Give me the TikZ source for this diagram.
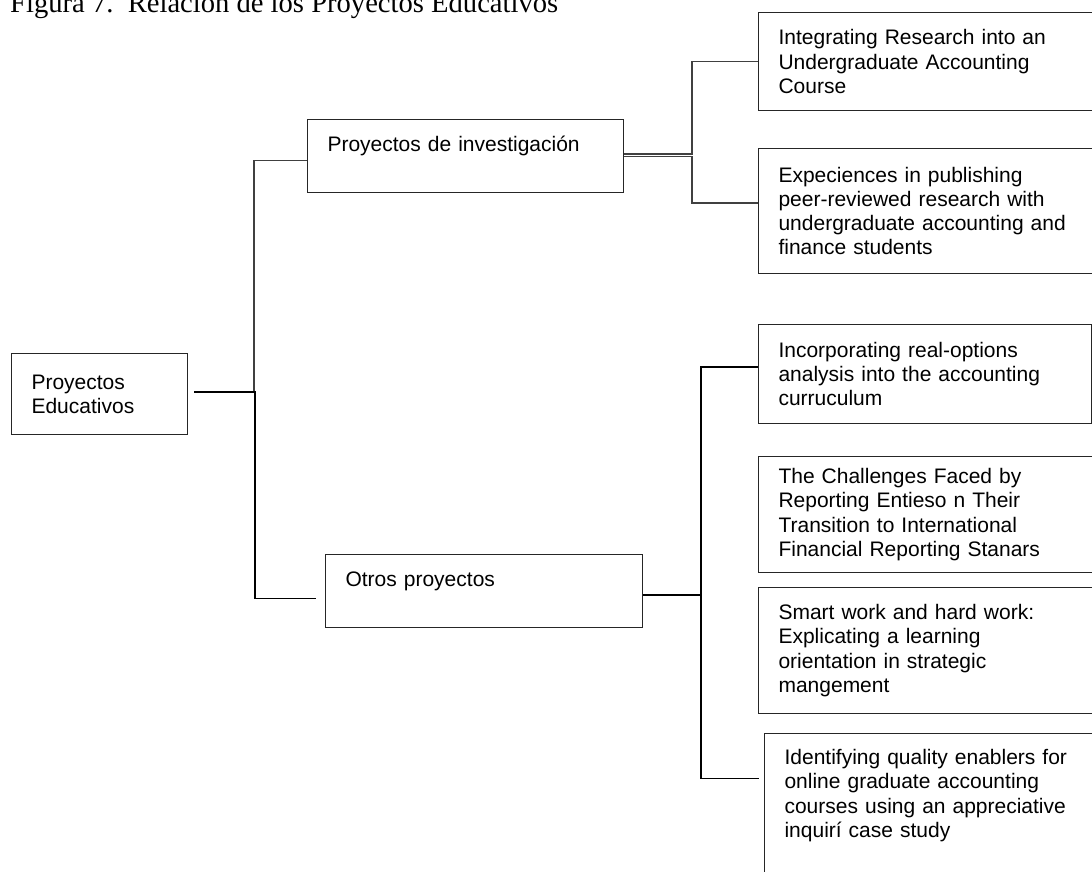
\documentclass[tikz,border=0pt]{standalone}
\usepackage{fontspec}
\setmainfont{Liberation Sans}
\newfontfamily\fuentetitulo{Liberation Serif}

\begin{document}
\begin{tikzpicture}[x=1pt,y=-1pt,
    caja/.style={draw=black!85, line width=1.1pt, anchor=north west, align=left,
        inner xsep=20pt, inner ysep=4pt, font=\fontsize{21}{24.2}\selectfont},
    linea/.style={draw=black!75, line width=1.3pt},
    lineagruesa/.style={draw=black, line width=2pt}]
    \useasboundingbox (0,0) rectangle (1092,871);

    % Title (cut at the top edge)
    \node[anchor=base west, inner sep=0pt, font=\fuentetitulo\fontsize{28.6}{34}\selectfont]
        (titulo) at (10,12) {Figura 7.\ \ Relación de los Proyectos Educativos};

    % Main boxes
    \node[caja, text width=136pt, minimum height=81pt] (educativos) at (11,353) {Proyectos\\Educativos};
    \node[caja, text width=276pt, minimum height=73pt] (investigacion) at (307,119) {Proyectos de investigación\\ \mbox{}};
    \node[caja, text width=277pt, minimum height=73pt] (otros) at (325,554) {Otros proyectos\\ \mbox{}};

    % Research projects
    \node[caja, text width=305pt, minimum height=98pt] (integrating) at (758,12)
        {Integrating Research into an\\Undergraduate Accounting\\Course};
    \node[caja, text width=305pt, minimum height=125pt] (expeciences) at (758,148)
        {Expeciences in publishing\\peer-reviewed research with\\undergraduate accounting and\\finance students};

    % Other projects
    \node[caja, text width=293pt, minimum height=99pt] (incorporating) at (758,324)
        {Incorporating real-options\\analysis into the accounting\\curruculum};
    \node[caja, text width=305pt, minimum height=116pt] (challenges) at (758,456)
        {The Challenges Faced by\\Reporting Entieso n Their\\Transition to International\\Financial Reporting Stanars};
    \node[caja, text width=305pt, minimum height=126pt] (smartwork) at (758,587)
        {Smart work and hard work:\\Explicating a learning\\orientation in strategic\\mangement};
    \node[caja, text width=300pt, minimum height=144pt] (identifying) at (764,733)
        {Identifying quality enablers for\\online graduate accounting\\courses using an appreciative\\inquirí case study\\ \mbox{}};

    % Connectors
    \draw[linea] ([xshift=6pt,yshift=2pt]educativos.east) -- ++(60,0) |- ([yshift=-4.5pt]investigacion.west);
    \draw[linea, black] ([xshift=6pt,yshift=2pt]educativos.east) -- ++(61,0) |- ([xshift=-9pt,yshift=-7.5pt]otros.west);

    \draw[linea] ([yshift=2pt]investigacion.east) -- ++(68,0) |- (integrating.west);
    \draw[linea] ([yshift=-0.5pt]investigacion.east) -- ++(68,0) |- ([yshift=8pt]expeciences.west);

    \draw[lineagruesa] ([yshift=-3.5pt]otros.east) -- ++(58,0) |- ([yshift=7.5pt]incorporating.west);
    \draw[linea, black] ([yshift=-3.5pt]otros.east) -- ++(58,0) |- ([xshift=-5pt,yshift=27pt]identifying.west);
\end{tikzpicture}
\end{document}
